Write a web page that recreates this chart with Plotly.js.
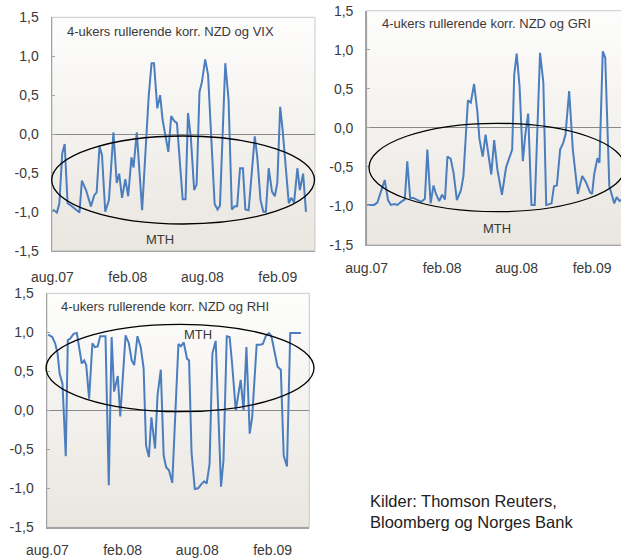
<!DOCTYPE html>
<html>
<head>
<meta charset="utf-8">
<script src="https://cdn.plot.ly/plotly-3.0.1.min.js"></script>
<style>
  html, body { margin: 0; padding: 0; background: #ffffff; }
  #chart { width: 621px; height: 558px; }
</style>
</head>
<body>
<div id="chart"></div>
<script>
// 4-week rolling correlations of NZD against three risk measures.
// x values are days counted from 1 Aug 2007.

const vixDays = [1, 11, 17, 24, 30, 37, 43, 53, 66, 72,
  82, 94, 102, 108, 115, 121, 129, 138, 149, 157,
  163, 170, 178, 185, 193, 198, 206, 219, 235, 242,
  248, 256, 263, 269, 283, 290, 297, 304, 318, 325,
  331, 338, 346, 352, 359, 365, 373, 380, 396, 403,
  409, 422, 430, 438, 445, 451, 458, 465, 471, 479,
  494, 500, 508, 515, 521, 528, 536, 543, 549, 556,
  562, 577, 583, 590, 598, 604, 612, 619];
const vixCorr = [-0.97, -1.01, -0.89, -0.25, -0.13, -0.89, -0.91, -0.95, -1.01, -0.60,
  -0.72, -0.93, -0.79, -0.75, -0.16, -0.27, -1.00, -0.85, 0.02, -0.63,
  -0.51, -0.82, -0.58, -0.80, -0.30, -0.43, 0.02, -0.98, 0.48, 0.91,
  0.91, 0.33, 0.50, 0.18, -0.23, 0.23, 0.17, 0.14, -0.84, -0.84,
  0.27, -0.05, -0.72, -0.65, 0.54, 0.67, 0.96, 0.76, -0.90, -0.97,
  -0.92, 0.91, 0.44, -0.97, -0.93, -0.93, -0.44, -0.44, -0.97, -0.98,
  -0.03, -0.29, -0.85, -1.00, -1.00, -0.44, -0.74, -0.80, -0.63, 0.35,
  0.05, -0.89, -0.82, -0.88, -0.44, -0.72, -0.51, -1.00];

const griDays = [0, 18, 26, 44, 52, 59, 68, 75, 84, 93,
  99, 106, 114, 124, 133, 142, 148, 156, 163, 169,
  177, 184, 191, 197, 205, 212, 220, 230, 236, 247,
  254, 262, 270, 275, 283, 290, 296, 304, 311, 319,
  330, 340, 355, 360, 366, 373, 381, 387, 394, 402,
  410, 423, 431, 438, 446, 451, 457, 464, 472, 479,
  485, 494, 503, 515, 526, 535, 545, 550, 555, 563,
  568, 576, 582, 592, 604, 610, 617, 623];
const griCorr = [-0.99, -0.99, -0.96, -0.67, -0.93, -0.99, -0.98, -0.99, -0.95, -0.92,
  -0.43, -0.90, -0.90, -0.93, -0.95, -0.91, -0.28, -0.97, -0.74, -0.85,
  -0.94, -0.86, -0.92, -0.37, -0.40, -0.58, -0.93, -0.80, -0.62, 0.35,
  0.32, 0.56, 0.21, -0.14, -0.37, -0.09, -0.34, -0.60, -0.16, -0.54,
  -0.86, -0.51, -0.28, 0.68, 0.95, 0.53, -0.43, -0.09, 0.18, -0.99,
  -0.99, 0.96, 0.58, -0.99, -0.98, -0.97, -0.75, -0.74, -0.28, -0.20,
  -0.09, 0.47, -0.28, -0.85, -0.62, -0.70, -0.83, -0.85, -0.60, -0.39,
  -0.45, 0.98, 0.90, -0.75, -0.97, -0.89, -0.94, -0.92];

const rhiDays = [2, 12, 19, 25, 30, 37, 45, 50, 56, 64,
  72, 77, 84, 90, 95, 102, 110, 116, 123, 129,
  136, 142, 150, 157, 163, 172, 178, 184, 191, 199,
  206, 212, 220, 228, 235, 241, 248, 254, 263, 269,
  277, 284, 290, 297, 305, 320, 326, 333, 341, 346,
  352, 360, 368, 377, 383, 389, 396, 403, 411, 424,
  430, 438, 445, 451, 460, 472, 479, 486, 494, 500,
  511, 520, 526, 534, 541, 547, 554, 562, 570, 577,
  585, 593, 619];
const rhiCorr = [0.97, 0.94, 0.86, 0.73, 0.47, 0.34, -0.59, 0.90, 0.92, 0.98,
  0.99, 0.81, 0.60, 0.64, 0.58, 0.15, 0.86, 0.81, 0.82, 0.95,
  0.95, 0.95, -0.96, 0.94, 0.24, 0.44, -0.08, 0.47, 0.96, 0.86,
  0.64, 0.58, 0.95, 0.81, 0.54, -0.45, -0.60, -0.09, -0.49, 0.19,
  0.52, -0.58, -0.73, -0.77, -0.93, 0.85, 0.82, 0.87, 0.66, 0.64,
  -0.54, -1.01, -1.00, -0.94, -0.91, -0.94, -0.69, 0.73, 0.89, -0.98,
  -0.64, 0.95, 0.94, 0.60, 0.00, 0.39, 0.00, 0.81, -0.30, -0.09,
  0.84, 0.84, 0.85, 0.96, 0.99, 0.95, 0.77, 0.56, 0.52, -0.58,
  -0.72, 0.99, 0.99];

const tickDays = [0, 184, 366, 550];
const tickLabels = ['aug.07', 'feb.08', 'aug.08', 'feb.09'];
const yTickVals = [-1.5, -1.0, -0.5, 0, 0.5, 1.0, 1.5];
const yTickLabels = ['-1,5', '-1,0', '-0,5', '0,0', '0,5', '1,0', '1,5'];

const panelTitles = [
  '4-ukers rullerende korr. NZD og VIX',
  '4-ukers rullerende korr. NZD og GRI',
  '4-ukers rullerende korr. NZD og RHI'
];
const regimeLabel = 'MTH';
const sourceNote = 'Kilder: Thomson Reuters,<br>Bloomberg og Norges Bank';

// ---- page geometry (pixels) ----
const W = 621, H = 558;
const fx = p => p / W;
const fy = p => 1 - p / H;

const panels = [
  { days: vixDays, corr: vixCorr, box: [52, 17.3, 315, 250.7], xr: [-1, 641], xoff: 13,
    title: [65, 31.7], mth: [160, 239], ell: [51.7, 136, 314.5, 224] },
  { days: griDays, corr: griCorr, box: [366.7, 10.7, 621, 244.7], xr: [0, 620.5], xoff: 10,
    title: [380, 23.3], mth: [497, 228.3], ell: [369, 123.3, 625, 211.7] },
  { days: rhiDays, corr: rhiCorr, box: [47, 293.3, 309.3, 527.3], xr: [-0.8, 639.5], xoff: 9,
    title: [59.3, 306.7], mth: [198, 334], ell: [46, 324.3, 314, 411.7] }
];

const FONT = '"Liberation Sans", Arial, sans-serif';
const TXT = '#3a3a3a';

const data = [];
const layout = {
  width: W, height: H,
  margin: { l: 0, r: 0, t: 0, b: 0 },
  paper_bgcolor: '#ffffff',
  plot_bgcolor: 'rgba(0,0,0,0)',
  showlegend: false,
  font: { family: FONT, color: TXT },
  shapes: [],
  annotations: []
};

// soft vertical shading behind each plot area
function shade(box, to) {
  const [x0, y0, x1, y1] = box;
  const n = 30, top = [253, 253, 252], bot = [234, 230, 224];
  for (let i = 0; i < n; i++) {
    const t = i / (n - 1);
    const c = top.map((v, k) => Math.round(v + (bot[k] - v) * t));
    const a = y0 + (y1 - y0) * i / n, b = y0 + (y1 - y0) * (i + 1) / n + 0.6;
    to.push({ type: 'rect', xref: 'paper', yref: 'paper', layer: 'below',
      x0: fx(x0), x1: fx(x1), y0: fy(Math.min(b, y1)), y1: fy(a),
      fillcolor: `rgb(${c[0]},${c[1]},${c[2]})`, line: { width: 0 } });
  }
}

panels.forEach((p, i) => {
  const n = i === 0 ? '' : String(i + 1);
  const [x0, y0, x1, y1] = p.box;
  data.push({
    x: p.days, y: p.corr, type: 'scatter', mode: 'lines',
    xaxis: 'x' + n, yaxis: 'y' + n,
    line: { color: '#4a7ebf', width: 2 }, hoverinfo: 'skip'
  });
  layout['xaxis' + n] = {
    domain: [fx(x0), fx(x1)], anchor: 'y' + n, range: p.xr,
    tickvals: tickDays, ticktext: tickLabels, ticks: '',
    showgrid: false, zeroline: false, showline: true,
    linecolor: '#a3a3a3', linewidth: 1.5,
    ticklabelstandoff: p.xoff,
    tickfont: { family: FONT, size: 14, color: TXT },
    fixedrange: true
  };
  layout['yaxis' + n] = {
    domain: [fy(y1), fy(y0)], anchor: 'x' + n, range: [-1.5, 1.5],
    tickvals: yTickVals, ticktext: yTickLabels,
    ticks: 'inside', ticklen: 3, tickcolor: '#a3a3a3',
    showgrid: false, zeroline: true, zerolinecolor: '#8a8a8a', zerolinewidth: 1,
    showline: true, linecolor: '#a3a3a3', linewidth: 1.5,
    ticklabelstandoff: 9,
    tickfont: { family: FONT, size: 14, color: TXT },
    fixedrange: true
  };
  shade(p.box, layout.shapes);
  // light frame round the plot area
  layout.shapes.push({ type: 'rect', xref: 'paper', yref: 'paper', layer: 'below',
    x0: fx(x0), x1: fx(i === 1 ? x1 + 5 : x1), y0: fy(y1), y1: fy(y0),
    line: { color: '#c9c9c9', width: 1 }, fillcolor: 'rgba(0,0,0,0)' });
  // regime ellipse
  layout.shapes.push({ type: 'circle', xref: 'paper', yref: 'paper', layer: 'above',
    x0: fx(p.ell[0]), x1: fx(p.ell[2]), y0: fy(p.ell[3]), y1: fy(p.ell[1]),
    line: { color: '#000000', width: 1.3 } });
  layout.annotations.push({ xref: 'paper', yref: 'paper',
    x: fx(p.title[0]), y: fy(p.title[1]), xanchor: 'left', yanchor: 'middle',
    text: panelTitles[i], showarrow: false,
    font: { family: FONT, size: 13, color: TXT } });
  layout.annotations.push({ xref: 'paper', yref: 'paper',
    x: fx(p.mth[0]), y: fy(p.mth[1]), xanchor: 'center', yanchor: 'middle',
    text: regimeLabel, showarrow: false,
    font: { family: FONT, size: 13, color: TXT } });
});

layout.annotations.push({ xref: 'paper', yref: 'paper',
  x: fx(368), y: fy(511), xanchor: 'left', yanchor: 'middle', align: 'left',
  text: sourceNote, showarrow: false,
  font: { family: FONT, size: 16.5, color: '#222222' } });

Plotly.newPlot('chart', data, layout, { displayModeBar: false, staticPlot: true });
</script>
</body>
</html>
